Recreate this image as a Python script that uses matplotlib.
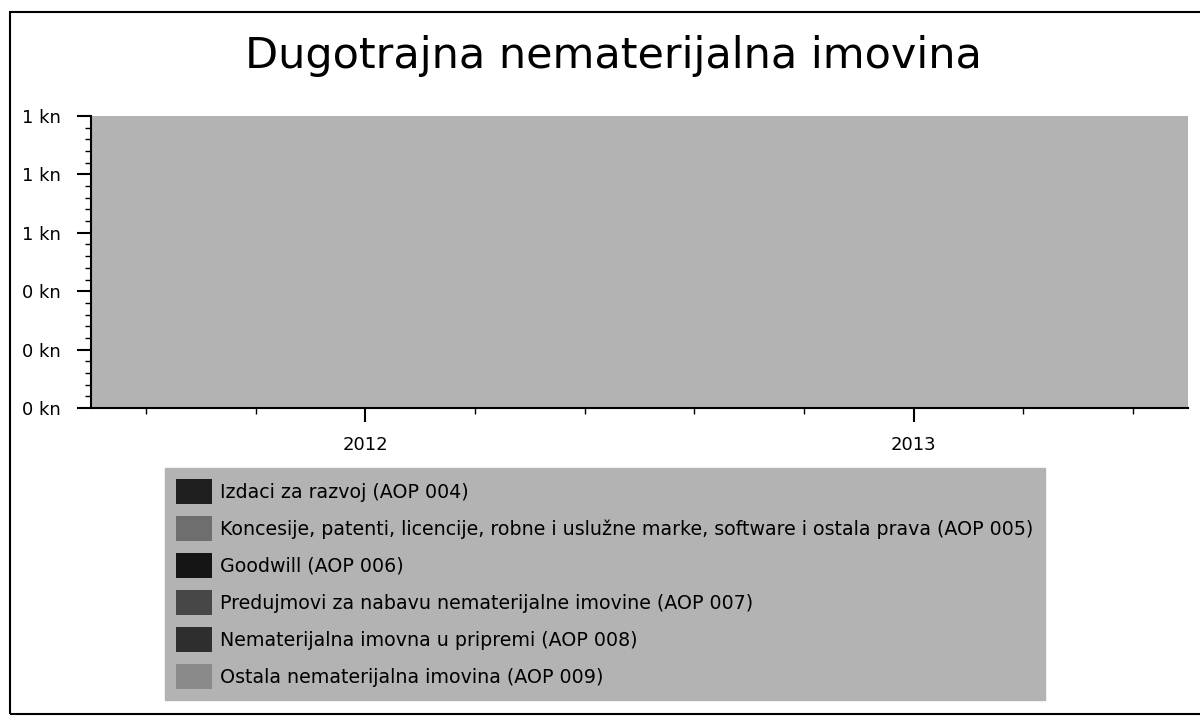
import matplotlib
matplotlib.use("Agg")
import matplotlib.pyplot as plt
import matplotlib.patches as mpatches
from matplotlib.ticker import FuncFormatter, MultipleLocator, AutoMinorLocator

# data: the report has no values for both years (all zero)
years = [2012, 2013]
labels = [
    "Izdaci za razvoj (AOP 004)",
    "Koncesije, patenti, licencije, robne i uslužne marke, software i ostala prava (AOP 005)",
    "Goodwill (AOP 006)",
    "Predujmovi za nabavu nematerijalne imovine (AOP 007)",
    "Nematerijalna imovna u pripremi (AOP 008)",
    "Ostala nematerijalna imovina (AOP 009)",
]
aop004 = [0, 0]
aop005 = [0, 0]
aop006 = [0, 0]
aop007 = [0, 0]
aop008 = [0, 0]
aop009 = [0, 0]
tick_years = [2012, 2013]
tick_labels = ["2012", "2013"]

colors = ["#1e1e1e", "#6e6e6e", "#151515", "#474747", "#2e2e2e", "#8a8a8a"]
grey = "#b3b3b3"

plt.rcParams['font.family'] = ['DejaVu Sans']

fig = plt.figure(figsize=(12, 7.2), dpi=100)
ax = fig.add_axes([91/1200, 1-408/720, 1097/1200, 292/720])
ax.set_facecolor(grey)

ax.stackplot(years, aop004, aop005, aop006, aop007, aop008, aop009,
             labels=labels, colors=colors)

ax.set_xlim(2011.5, 2013.5)
ax.set_ylim(0, 1)
ax.set_xticks(tick_years)
ax.set_xticklabels(tick_labels)
ax.xaxis.set_minor_locator(MultipleLocator(0.2))
ax.yaxis.set_major_locator(MultipleLocator(0.2))
ax.yaxis.set_minor_locator(AutoMinorLocator(5))
ax.yaxis.set_major_formatter(FuncFormatter(lambda v, p: "%.0f kn" % v))

ax.tick_params(axis='both', which='major', direction='out', length=10, width=1.5,
               labelsize=13, color='black')
ax.tick_params(axis='x', which='major', pad=10)
ax.tick_params(axis='y', which='major', pad=12)
ax.tick_params(axis='both', which='minor', direction='out', length=4, width=1)

for s in ['top', 'right']:
    ax.spines[s].set_visible(False)
for s in ['left', 'bottom']:
    ax.spines[s].set_linewidth(1.5)

fig.text(0.511, 1-56/720, "Dugotrajna nematerijalna imovina", fontsize=31,
         ha='center', va='center')

handles, labs = ax.get_legend_handles_labels()
leg = fig.legend(handles, labs, loc='upper left', bbox_to_anchor=(165/1200, 1-468/720),
                 bbox_transform=fig.transFigure, fontsize=13.7, frameon=True,
                 fancybox=False, handlelength=1.85, handleheight=1.6,
                 labelspacing=0.66, handletextpad=0.45, borderpad=0.6,
                 borderaxespad=0)
leg.get_frame().set_facecolor(grey)
leg.get_frame().set_edgecolor(grey)
leg.get_frame().set_alpha(1)

# outer frame of the scanned chart
fig.patches.append(mpatches.Rectangle((10/1200, 6/720), 1.2, 1-18/720,
                                      transform=fig.transFigure, fill=False,
                                      lw=1.5, ec='black'))

fig.savefig("out.png", dpi=100)
